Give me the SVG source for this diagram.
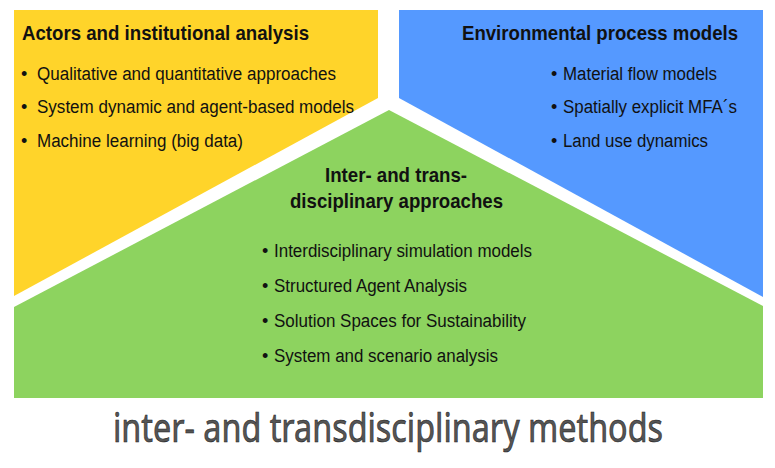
<svg xmlns="http://www.w3.org/2000/svg" width="775" height="468" viewBox="0 0 775 468">
  <style>
    .title { font-family: "Liberation Sans Narrow", "Liberation Sans", Arial, sans-serif; font-weight: bold; font-size: 21px; fill: #111111; }
    .item { font-family: "Liberation Sans Narrow", "Liberation Sans", Arial, sans-serif; font-size: 18px; fill: #111111; }
    .dot { font-family: "Liberation Sans", Arial, sans-serif; font-size: 18px; fill: #111111; }
    .footer { font-family: "Noto Sans", "Open Sans", "DejaVu Sans", sans-serif; font-size: 40px; fill: #555555; stroke: #222222; stroke-width: 0.6; }
  </style>
  <rect width="775" height="468" fill="#ffffff"/>

  <!-- actors panel -->
  <g id="actors">
    <polygon points="14,10 378,10 378,98 14,296" fill="#ffd42a"/>
    <text class="title" x="22" y="40" textLength="287" lengthAdjust="spacingAndGlyphs">Actors and institutional analysis</text>
    <text class="dot" x="21" y="80">•</text>
    <text class="item" x="37" y="80" textLength="299" lengthAdjust="spacingAndGlyphs">Qualitative and quantitative approaches</text>
    <text class="dot" x="21" y="113">•</text>
    <text class="item" x="37" y="113" textLength="317" lengthAdjust="spacingAndGlyphs">System dynamic and agent-based models</text>
    <text class="dot" x="21" y="147">•</text>
    <text class="item" x="37" y="147" textLength="206" lengthAdjust="spacingAndGlyphs">Machine learning (big data)</text>
  </g>

  <!-- environmental panel -->
  <g id="environment">
    <polygon points="399,10 763,10 763,297 399,98" fill="#5599ff"/>
    <text class="title" x="462" y="40" textLength="276" lengthAdjust="spacingAndGlyphs">Environmental process models</text>
    <text class="dot" x="551" y="80">•</text>
    <text class="item" x="563" y="80" textLength="154" lengthAdjust="spacingAndGlyphs">Material flow models</text>
    <text class="dot" x="551" y="113">•</text>
    <text class="item" x="563" y="113" textLength="174" lengthAdjust="spacingAndGlyphs">Spatially explicit MFA´s</text>
    <text class="dot" x="551" y="147">•</text>
    <text class="item" x="563" y="147" textLength="145" lengthAdjust="spacingAndGlyphs">Land use dynamics</text>
  </g>

  <!-- inter- and transdisciplinary panel -->
  <g id="interdisciplinary">
    <polygon points="14,307 389,110 763,306 763,398 14,398" fill="#8dd35f"/>
    <text class="title" x="325" y="182" textLength="142" lengthAdjust="spacingAndGlyphs">Inter- and trans-</text>
    <text class="title" x="290" y="208" textLength="213" lengthAdjust="spacingAndGlyphs">disciplinary approaches</text>
    <text class="dot" x="262" y="257">•</text>
    <text class="item" x="274" y="257" textLength="258" lengthAdjust="spacingAndGlyphs">Interdisciplinary simulation models</text>
    <text class="dot" x="262" y="292">•</text>
    <text class="item" x="274" y="292" textLength="193" lengthAdjust="spacingAndGlyphs">Structured Agent Analysis</text>
    <text class="dot" x="262" y="327">•</text>
    <text class="item" x="274" y="327" textLength="252" lengthAdjust="spacingAndGlyphs">Solution Spaces for Sustainability</text>
    <text class="dot" x="262" y="362">•</text>
    <text class="item" x="274" y="362" textLength="224" lengthAdjust="spacingAndGlyphs">System and scenario analysis</text>
  </g>

  <!-- caption -->
  <g id="caption">
    <text class="footer" x="113" y="442" textLength="550" lengthAdjust="spacingAndGlyphs">inter- and transdisciplinary methods</text>
  </g>
</svg>
